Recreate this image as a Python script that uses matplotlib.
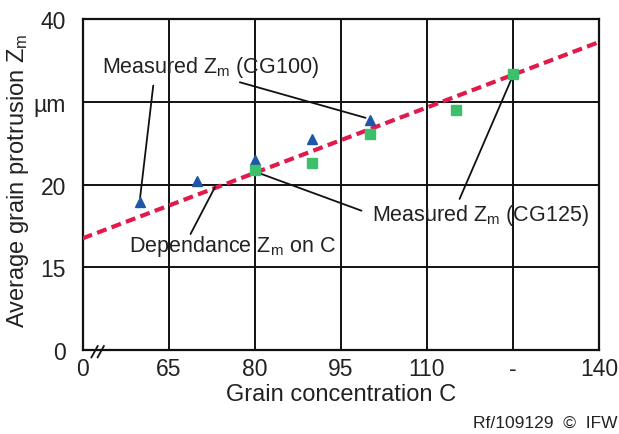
import matplotlib
matplotlib.use('Agg')
import matplotlib.pyplot as plt

plt.rcParams['font.family'] = ['Liberation Sans', 'DejaVu Sans']
plt.rcParams['mathtext.fontset'] = 'custom'
plt.rcParams['mathtext.rm'] = 'Liberation Sans'
plt.rcParams['mathtext.it'] = 'Liberation Sans'

# axis ticks (positions and printed labels as in the original)
x_ticks = [50, 65, 80, 95, 110, 125, 140]
x_labels = ['0', '65', '80', '95', '110', '-', '140']
y_ticks = [10, 15, 20, 25, 30]
y_labels = ['0', '15', '20', 'µm', '40']

# measured values
c_cg100 = [60, 70, 80, 90, 100]
z_cg100 = [18.94, 20.25, 21.5, 22.78, 23.9]
c_cg125 = [80, 90, 100, 115, 125]
z_cg125 = [20.9, 21.3, 23.05, 24.53, 26.67]

# dependance line end points
c_fit = [50, 140]
z_fit = [16.76, 28.63]

fig = plt.figure(figsize=(6.19, 4.35), dpi=100)
ax = fig.add_axes([0.1336, 0.193, 0.834, 0.76])

ax.set_xlim(50, 140)
ax.set_ylim(10, 30)
ax.set_xticks(x_ticks)
ax.set_xticklabels(x_labels)
ax.set_yticks(y_ticks)
ax.set_yticklabels(y_labels)
ax.tick_params(length=0, labelsize=16.5, colors='#222222')
ax.tick_params(axis='y', pad=12)
ax.tick_params(axis='x', pad=5)
ax.grid(True, color='#111111', linewidth=1.4)
ax.set_axisbelow(True)
for s in ax.spines.values():
    s.set_color('#111111')
    s.set_linewidth(1.6)

ax.plot(c_fit, z_fit, color='#e01a4a', linewidth=3, dashes=(2.4, 1.3), zorder=3)
ax.plot(c_cg100, z_cg100, '^', color='#1f57a8', markersize=7, zorder=4)
ax.plot(c_cg125, z_cg125, 's', color='#3dbf6c', markersize=7, zorder=4)

ax.set_xlabel('Grain concentration C', fontsize=17, color='#222222')
ax.xaxis.set_label_coords(0.5, -0.10)
ax.set_ylabel('Average grain protrusion $Z_\\mathrm{m}$', fontsize=17, color='#222222')
ax.yaxis.set_label_coords(-0.100, 0.514)

# annotations
line = dict(arrowstyle='-', color='#111111', linewidth=1.3, shrinkA=0, shrinkB=0)
txt = dict(fontsize=15.5, color='#222222', ha='center', va='center')
ax.annotate('Measured $Z_\\mathrm{m}$ (CG100)', xy=(72.35, 27.13), **txt)
ax.annotate('', xy=(60, 19.2), xytext=(62.3, 26.0), arrowprops=line)
ax.annotate('', xy=(99.3, 24.05), xytext=(77.4, 26.2), arrowprops=line)

ax.annotate('Dependance $Z_\\mathrm{m}$ on C', xy=(76.1, 16.31), **txt)
ax.annotate('', xy=(73.05, 19.85), xytext=(68.8, 17.02), arrowprops=line)

ax.annotate('Measured $Z_\\mathrm{m}$ (CG125)', xy=(119.4, 18.23), **txt)
ax.annotate('', xy=(80.3, 20.76), xytext=(98.6, 18.43), arrowprops=line)
ax.annotate('', xy=(125, 26.6), xytext=(115.7, 19.14), arrowprops=line)

# axis break marks
for dx in (0.0, 0.012):
    ax.plot([0.017 + dx, 0.029 + dx], [-0.022, 0.012], transform=ax.transAxes,
            color='#111111', linewidth=1.3, clip_on=False)

fig.text(0.997, 0.026, 'Rf/109129  ©  IFW', fontsize=12.5, color='#222222', ha='right', va='center')

fig.savefig('out.png', dpi=100)
